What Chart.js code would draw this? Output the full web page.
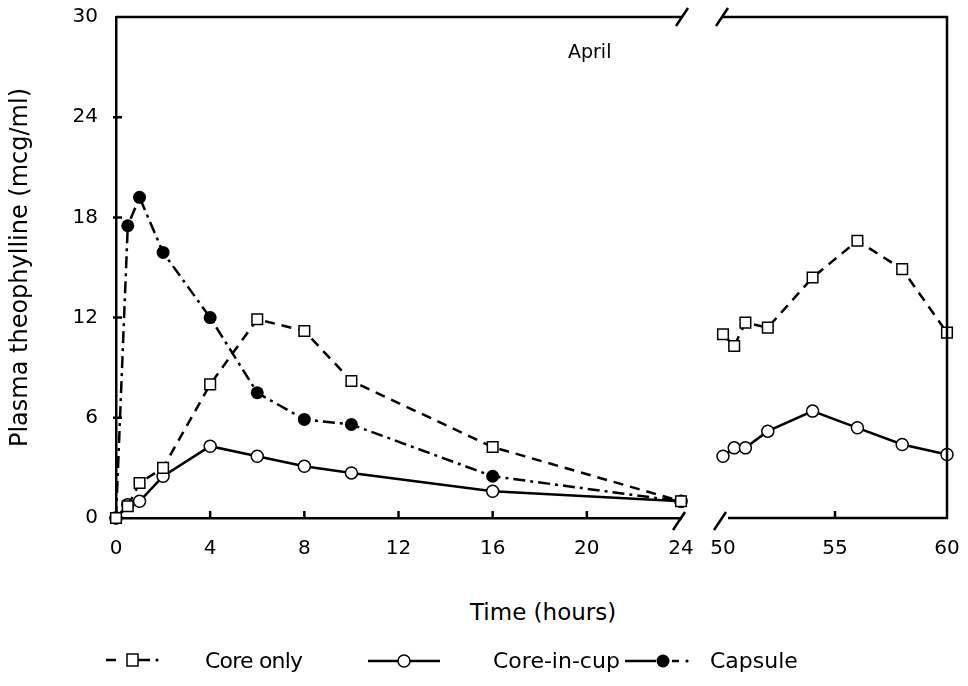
<!DOCTYPE html>
<html>
<head>
<meta charset="utf-8">
<script src="https://cdn.jsdelivr.net/npm/chart.js@4.4.1/dist/chart.umd.min.js"></script>
<style>
  html, body { margin: 0; padding: 0; background: #fff; }
  #wrap { position: relative; width: 968px; height: 686px; background: #fff; font-family: "DejaVu Sans", sans-serif; color: #000; }
  #wrap canvas { position: absolute; top: 0; }
  .txt { position: absolute; white-space: nowrap; line-height: 1; }
  #legendMarks { position: absolute; left: 0; top: 0; }
</style>
</head>
<body>
<div id="wrap">
  <canvas id="early" width="700" height="560" style="left:0"></canvas>
  <canvas id="late" width="268" height="560" style="left:700px"></canvas>
  <div class="txt" id="month" style="left:568px; top:42px; font-size:19px;">April</div>
  <div class="txt" id="xTitle" style="left:470px; top:601px; font-size:23px;">Time (hours)</div>
  <svg id="legendMarks" width="968" height="686">
    <g stroke="#000" stroke-width="2.5" fill="none">
      <line x1="106" y1="660" x2="116" y2="660"/>
      <rect x="127" y="654" width="11" height="12" stroke-width="1.5" fill="#fff"/>
      <line x1="138" y1="660" x2="150" y2="660"/>
      <line x1="368" y1="661" x2="440" y2="661"/>
      <circle cx="404" cy="661" r="6" stroke-width="1.5" fill="#fff"/>
      <line x1="625" y1="661" x2="656" y2="661"/>
      <line x1="672" y1="661" x2="679" y2="661"/>
    </g>
    <circle cx="157" cy="660" r="1.6" fill="#000"/>
    <circle cx="663" cy="661" r="6.5" fill="#000"/>
    <circle cx="687" cy="661" r="1.6" fill="#000"/>
  </svg>
  <div class="txt" style="left:205px; top:650px; font-size:22px; letter-spacing:-0.8px;">Core only</div>
  <div class="txt" style="left:493px; top:650px; font-size:22px;">Core-in-cup</div>
  <div class="txt" style="left:710px; top:650px; font-size:22px;">Capsule</div>
</div>
<script>
// Sampling times (hours) for the first day and for the later window
const hoursEarly = [0, 0.5, 1, 2, 4, 6, 8, 10, 16, 24];
const hoursLate = [50, 50.5, 51, 52, 54, 56, 58, 60];

// Plasma theophylline, mcg/ml
const coreOnlyEarly = [0, 0.7, 2.1, 3.0, 8.0, 11.9, 11.2, 8.2, 4.25, 1.0];
const coreInCupEarly = [0, 0.8, 1.0, 2.5, 4.3, 3.7, 3.1, 2.7, 1.6, 1.0];
const capsuleEarly = [0, 17.5, 19.2, 15.9, 12.0, 7.5, 5.9, 5.6, 2.5, 1.0];

const coreOnlyLate = [11.0, 10.3, 11.7, 11.4, 14.4, 16.6, 14.9, 11.1];
const coreInCupLate = [3.7, 4.2, 4.2, 5.2, 6.4, 5.4, 4.4, 3.8];

const yTicks = [0, 6, 12, 18, 24, 30];

const INK = '#000';
const FONT = { family: 'DejaVu Sans', size: 20 };

const pairs = (xs, ys) => xs.map((x, i) => ({ x, y: ys[i] }));

function coreOnly(data) {
    return {
        label: 'Core only', data,
        borderColor: INK, borderWidth: 2.5, borderDash: [10, 7],
        pointStyle: 'rect', pointRadius: 7.5, pointBorderWidth: 1.5,
        pointBackgroundColor: '#fff', pointBorderColor: INK,
    };
}
function coreInCup(data) {
    return {
        label: 'Core-in-cup', data,
        borderColor: INK, borderWidth: 2.5,
        pointStyle: 'circle', pointRadius: 6, pointBorderWidth: 1.5,
        pointBackgroundColor: '#fff', pointBorderColor: INK,
    };
}
function capsule(data) {
    return {
        label: 'Capsule', data,
        borderColor: INK, borderWidth: 2.5, borderDash: [12, 5, 3, 5],
        pointStyle: 'circle', pointRadius: 6.5, pointBorderWidth: 0,
        pointBackgroundColor: INK, pointBorderColor: INK,
    };
}

function slash(ctx, x, y) {
    ctx.beginPath();
    ctx.moveTo(x - 6, y + 9);
    ctx.lineTo(x + 6, y - 9);
    ctx.stroke();
}

// short tick marks pointing into the plot, skipping the ends of each axis
function innerTicks(chart, ctx) {
    const { left, bottom } = chart.chartArea;
    const xs = chart.scales.x, ys = chart.scales.y;
    ctx.beginPath();
    xs.ticks.forEach(t => {
        if (t.value === xs.min || t.value === xs.max) return;
        const px = xs.getPixelForValue(t.value);
        ctx.moveTo(px, bottom);
        ctx.lineTo(px, bottom - 7);
    });
    if (ys.options.display) {
        ys.ticks.forEach(t => {
            if (t.value === ys.min || t.value === ys.max) return;
            const py = ys.getPixelForValue(t.value);
            ctx.moveTo(left - 3, py);
            ctx.lineTo(left + 6, py);
        });
    }
    ctx.stroke();
}

const earlyFrame = {
    id: 'earlyFrame',
    afterDraw(chart) {
        const { ctx } = chart;
        const { left, right, top, bottom } = chart.chartArea;
        ctx.save();
        ctx.strokeStyle = INK;
        ctx.lineWidth = 2.5;
        ctx.beginPath();
        ctx.moveTo(left, top);
        ctx.lineTo(right + 2, top);
        ctx.stroke();
        slash(ctx, right + 1, top);
        slash(ctx, right - 2, bottom + 3);
        innerTicks(chart, ctx);
        ctx.restore();
    },
};

const lateFrame = {
    id: 'lateFrame',
    afterDraw(chart) {
        const { ctx } = chart;
        const { left, right, top, bottom } = chart.chartArea;
        ctx.save();
        ctx.strokeStyle = INK;
        ctx.lineWidth = 2.5;
        ctx.beginPath();
        ctx.moveTo(left - 1, top);
        ctx.lineTo(right, top);
        ctx.lineTo(right, bottom);
        ctx.lineTo(left + 5, bottom);
        ctx.stroke();
        slash(ctx, left - 1, top);
        slash(ctx, left - 3, bottom + 3);
        innerTicks(chart, ctx);
        ctx.restore();
    },
};

// the gap between axis and labels goes through tickLength (grid hidden),
// so it does not inflate the layout padding the way ticks.padding does
function yScale(show) {
    return {
        display: show,
        min: 0, max: 30,
        afterBuildTicks: s => { s.ticks = yTicks.map(v => ({ value: v })); },
        afterFit: s => { if (show) s.width = 116; },
        grid: { display: false, drawTicks: true, tickLength: 18 },
        border: { display: show, color: INK, width: 2.5 },
        ticks: { color: INK, font: FONT, padding: 0 },
        title: {
            display: true, text: 'Plasma theophylline (mcg/ml)',
            color: INK, font: { family: 'DejaVu Sans', size: 24 },
            padding: { top: 6, bottom: 0 },
        },
    };
}

function xScale(min, max, step, showBorder) {
    return {
        type: 'linear', min, max,
        afterFit: s => { s.height = 42; },
        grid: { display: false, drawTicks: true, tickLength: 19 },
        border: { display: showBorder, color: INK, width: 2.5 },
        ticks: { stepSize: step, autoSkip: false, maxRotation: 0, color: INK, font: FONT, padding: 0 },
    };
}

const common = {
    responsive: false,
    animation: false,
    elements: { line: { tension: 0 } },
    plugins: { legend: { display: false }, tooltip: { enabled: false } },
};

new Chart(document.getElementById('early'), {
    type: 'line',
    data: {
        datasets: [
            coreOnly(pairs(hoursEarly, coreOnlyEarly)),
            coreInCup(pairs(hoursEarly, coreInCupEarly)),
            capsule(pairs(hoursEarly, capsuleEarly)),
        ].map(d => ({ ...d, clip: false })),
    },
    options: {
        ...common,
        layout: { padding: { top: 17, right: 19, bottom: 0, left: 0 } },
        scales: { x: xScale(0, 24, 4, true), y: yScale(true) },
    },
    plugins: [earlyFrame],
});

new Chart(document.getElementById('late'), {
    type: 'line',
    data: {
        datasets: [
            coreOnly(pairs(hoursLate, coreOnlyLate)),
            coreInCup(pairs(hoursLate, coreInCupLate)),
        ].map(d => ({ ...d, clip: false })),
    },
    options: {
        ...common,
        layout: { padding: { top: 17, right: 21, bottom: 0, left: 23 } },
        scales: { x: xScale(50, 60, 5, false), y: yScale(false) },
    },
    plugins: [lateFrame],
});
</script>
</body>
</html>
